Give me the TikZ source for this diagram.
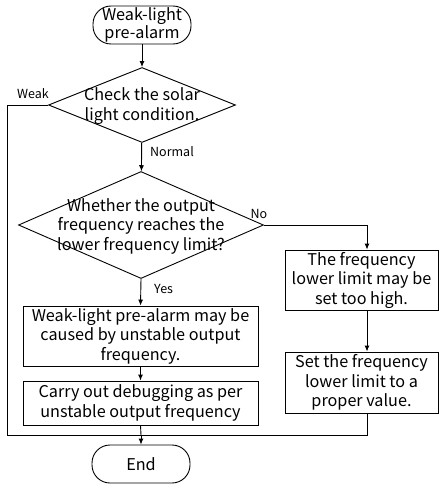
\documentclass[tikz,border=0pt]{standalone}
\usepackage{fontspec}
\setmainfont{Noto Sans CJK SC}
\usetikzlibrary{shapes.geometric,arrows.meta}
\begin{document}
\begin{tikzpicture}[x=1pt,y=-1pt,
  every node/.style={font=\fontsize{16.2}{19.5}\selectfont},
  lbl/.style={font=\fontsize{12.5}{14}\selectfont, inner sep=0pt},
  term/.style={draw, rounded corners=18pt, minimum width=98pt, minimum height=38pt, inner sep=0pt, align=center},
  proc/.style={draw, minimum width=153pt, inner sep=0pt, align=center},
  dia/.style={draw, diamond, inner sep=0pt},
  txt/.style={align=center, inner sep=0pt},
  line/.style={line width=0.9pt},
  arr/.style={line, -{Latex[length=6pt,width=5pt]}}]
\useasboundingbox (0,0) rectangle (440,484);
\node[term, line] (start) at (142,25) {Weak-light\\[-1pt]pre-alarm};
\node[dia, line, minimum width=187pt, minimum height=75pt] (d1) at (142,105) {};
\node[txt] (d1t) at (142,106) {Check the solar\\light condition.};
\node[dia, line, minimum width=245pt, minimum height=107pt] (d2) at (141,225) {};
\node[txt] (d2t) at (141,226) {Whether the output\\frequency reaches the\\lower frequency limit?};
\node[proc, line, minimum width=235pt, minimum height=60pt] (b1) at (140.5,336) {Weak-light pre-alarm may be\\caused by unstable output\\frequency.};
\node[proc, line, minimum width=235pt, minimum height=44pt] (b2) at (140.5,403) {Carry out debugging as per\\unstable output frequency};
\node[proc, line, minimum height=60pt] (r1) at (361.5,280) {The frequency\\lower limit may be\\set too high.};
\node[proc, line, minimum height=61pt] (r2) at (361.5,382.5) {Set the frequency\\lower limit to a\\proper value.};
\node[term, line] (end) at (141,464) {End};
\coordinate (m) at (141,435);
\coordinate (wl) at (7,105);
\coordinate (wb) at (7,435);
\coordinate (nr) at (367,225);
\coordinate (rb) at (367,435);
\draw[arr] (start) -- (d1);
\draw[arr] (d1) -- (d2);
\node[lbl, anchor=west] (normal) at (150,152) {Normal};
\draw[line] (d1.west) -- (wl) -- (wb) -- (m);
\node[lbl] (weak) at (33,94) {Weak};
\draw[arr] (d2.east) -- (nr) -- (nr |- r1.north);
\node[lbl] (no) at (259,214) {No};
\draw[arr] (d2.south) -- (b1.north);
\node[lbl, anchor=west] (yes) at (154,289) {Yes};
\draw[arr] (b1) -- (b2);
\draw[line] (b2.south) -- (m);
\draw[arr] (r1.south -| nr) -- (r2.north -| nr);
\draw[line] (r2.south -| rb) -- (rb) -- (m);
\draw[arr] (m) -- (end);
\end{tikzpicture}
\end{document}
